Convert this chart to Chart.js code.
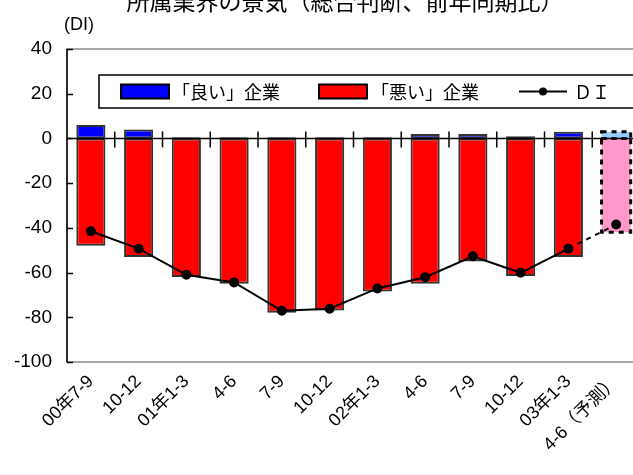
<!DOCTYPE html>
<html lang="ja">
<head>
<meta charset="utf-8">
<title>所属業界の景気（総合判断、前年同期比）</title>
<script src="https://cdn.jsdelivr.net/npm/chart.js@4/dist/chart.umd.min.js"></script>
<style>
  html, body { margin: 0; padding: 0; overflow: hidden; background: #fff; }
  #wrap { position: absolute; left: 0; top: 0; width: 660px; height: 475px; }
</style>
</head>
<body>
<div id="wrap"><canvas id="chart" width="660" height="475"></canvas></div>
<script>
// 四半期ラベル
const categories = ['00年7-9', '10-12', '01年1-3', '4-6', '7-9', '10-12',
                    '02年1-3', '4-6', '7-9', '10-12', '03年1-3', '4-6（予測）'];
// 「良い」企業の割合（％）
const goodValues = [6, 4, 0.5, 0.5, 0.5, 0.5, 0.5, 2, 2, 1, 3, 3];
// 「悪い」企業の割合（マイナス表示）
const badValues = [-48, -53, -62, -65, -78, -77, -68.5, -65, -55, -61.5, -53, -42];
// ＤＩ（「良い」－「悪い」）
const diValues = [-41.5, -49.3, -61, -64.4, -77.1, -76.2, -67.1, -62.1, -52.7, -60.1, -49.3, -38.5];
// 縦軸目盛
const yTicks = [40, 20, 0, -20, -40, -60, -80, -100];

const titleText = '所属業界の景気（総合判断、前年同期比）';
const unitText = '(DI)';
const legendLabels = ['「良い」企業', '「悪い」企業', 'ＤＩ'];

const FORECAST = categories.length - 1;
const FONT = '"Liberation Sans", "Noto Sans CJK JP", sans-serif';
const JFONT = '"Noto Sans CJK JP", "Liberation Sans", sans-serif';

// 予測値の棒は破線枠で描く
const dashedBars = {
  id: 'dashedBars',
  afterDatasetsDraw(chart) {
    const ctx = chart.ctx;
    [0, 1].forEach(di => {
      const el = chart.getDatasetMeta(di).data[FORECAST];
      if (!el) return;
      const p = el.getProps(['x', 'y', 'base', 'width'], true);
      const l = p.x - p.width / 2, r = p.x + p.width / 2;
      const t = Math.min(p.y, p.base), b = Math.max(p.y, p.base);
      ctx.save();
      ctx.strokeStyle = '#000';
      ctx.lineWidth = 3;
      ctx.setLineDash([5, 5]);
      ctx.strokeRect(l, t, r - l, b - t);
      ctx.restore();
    });
  }
};

// 枠線・ゼロ線・目盛線・見出し・凡例
const decorations = {
  id: 'decorations',
  beforeDatasetsDraw(chart) {
    const { ctx, chartArea: a, scales: { y } } = chart;
    ctx.save();
    // 外枠（灰色）
    ctx.strokeStyle = '#8a8a8a';
    ctx.lineWidth = 1.5;
    ctx.strokeRect(a.left, a.top, a.right - a.left, a.bottom - a.top);
    // 縦軸
    ctx.strokeStyle = '#000';
    ctx.lineWidth = 1.5;
    ctx.beginPath();
    ctx.moveTo(a.left, a.top);
    ctx.lineTo(a.left, a.bottom);
    ctx.stroke();
    // 縦軸の内向き目盛
    yTicks.forEach(v => {
      const py = Math.round(y.getPixelForValue(v)) + 0.5;
      ctx.beginPath();
      ctx.moveTo(a.left, py);
      ctx.lineTo(a.left + 6, py);
      ctx.stroke();
    });
    ctx.restore();
  },
  afterDatasetsDraw(chart) {
    const { ctx, chartArea: a, scales: { x, y } } = chart;
    ctx.save();
    // ゼロ線と区切り目盛
    const y0 = y.getPixelForValue(0);
    ctx.strokeStyle = '#000';
    ctx.lineWidth = 1.5;
    ctx.beginPath();
    ctx.moveTo(a.left, y0);
    ctx.lineTo(a.right, y0);
    ctx.stroke();
    for (let i = 0; i < categories.length - 1; i++) {
      const px = (x.getPixelForValue(i) + x.getPixelForValue(i + 1)) / 2;
      ctx.beginPath();
      ctx.moveTo(px, y0 - 7);
      ctx.lineTo(px, y0 + 9);
      ctx.stroke();
    }
    ctx.restore();
  },
  afterDraw(chart) {
    const { ctx } = chart;
    const ds = chart.data.datasets;
    ctx.save();
    ctx.fillStyle = '#000';
    // 表題（上端で切れる）
    ctx.font = '23px ' + JFONT;
    ctx.textAlign = 'center';
    ctx.textBaseline = 'alphabetic';
    ctx.fillText(titleText, 345, 10);
    // 単位
    ctx.font = '18px ' + FONT;
    ctx.textAlign = 'center';
    ctx.textBaseline = 'middle';
    ctx.fillText(unitText, 79, 25);

    // 凡例
    const top = 75, bottom = 108, mid = (top + bottom) / 2;
    ctx.fillStyle = '#fff';
    ctx.fillRect(99, top, chart.width, bottom - top);
    ctx.strokeStyle = '#000';
    ctx.lineWidth = 1.5;
    ctx.strokeRect(99, top, chart.width, bottom - top);

    ctx.font = '18px ' + JFONT;
    ctx.textAlign = 'left';
    ctx.textBaseline = 'middle';
    const items = [
      { sx: 121, tx: 172, d: ds[0] },
      { sx: 319, tx: 371, d: ds[1] }
    ];
    items.forEach(it => {
      const c = Array.isArray(it.d.backgroundColor) ? it.d.backgroundColor[0] : it.d.backgroundColor;
      ctx.fillStyle = c;
      ctx.fillRect(it.sx, mid - 7, 48, 14);
      ctx.strokeStyle = '#000';
      ctx.lineWidth = 2;
      ctx.strokeRect(it.sx, mid - 7, 48, 14);
      ctx.fillStyle = '#000';
      ctx.fillText(it.d.label, it.tx, mid + 1);
    });
    // 折れ線の凡例
    ctx.strokeStyle = ds[2].borderColor;
    ctx.lineWidth = 2;
    ctx.beginPath();
    ctx.moveTo(519, mid);
    ctx.lineTo(567, mid);
    ctx.stroke();
    ctx.fillStyle = '#000';
    ctx.beginPath();
    ctx.arc(543, mid, 4, 0, Math.PI * 2);
    ctx.fill();
    ctx.fillText(ds[2].label, 574, mid + 1);
    ctx.restore();
  }
};

const isForecast = c => c.dataIndex === FORECAST;

new Chart(document.getElementById('chart'), {
  data: {
    labels: categories,
    datasets: [
      {
        type: 'bar',
        label: legendLabels[0],
        data: goodValues,
        grouped: false,
        order: 2,
        backgroundColor: categories.map((_, i) => i === FORECAST ? '#99ccff' : '#0000ff'),
        borderColor: '#333',
        borderWidth: c => isForecast(c) ? 0 : 2,
        borderSkipped: false,
        barPercentage: 0.61,
        categoryPercentage: 1
      },
      {
        type: 'bar',
        label: legendLabels[1],
        data: badValues,
        grouped: false,
        order: 1,
        backgroundColor: categories.map((_, i) => i === FORECAST ? '#ff99cc' : '#ff0000'),
        borderColor: '#333',
        borderWidth: c => isForecast(c) ? 0 : 2,
        borderSkipped: false,
        barPercentage: 0.61,
        categoryPercentage: 1
      },
      {
        type: 'line',
        label: legendLabels[2],
        data: diValues,
        order: 0,
        borderColor: '#000',
        borderWidth: 2,
        pointRadius: 4,
        pointBackgroundColor: '#000',
        pointBorderColor: '#000',
        tension: 0,
        segment: {
          borderDash: c => c.p1DataIndex === FORECAST ? [5, 5] : undefined
        }
      }
    ]
  },
  options: {
    responsive: false,
    animation: false,
    events: [],
    layout: { padding: { top: 49, right: 20, left: 0, bottom: 0 } },
    plugins: {
      legend: { display: false },
      title: { display: false },
      tooltip: { enabled: false }
    },
    scales: {
      x: {
        type: 'category',
        offset: true,
        grid: { display: false, drawTicks: false },
        border: { display: false },
        ticks: {
          color: '#000',
          font: { size: 18, family: FONT },
          minRotation: 45,
          maxRotation: 45,
          padding: 9,
          autoSkip: false
        },
        afterFit(s) { s.height = 113; }
      },
      y: {
        min: -100,
        max: 40,
        afterBuildTicks(s) { s.ticks = yTicks.map(v => ({ value: v })); },
        grid: { display: false, drawTicks: false },
        border: { display: false },
        ticks: {
          color: '#000',
          font: { size: 19, family: FONT },
          padding: 15
        },
        afterFit(s) { s.width = 67; }
      }
    }
  },
  plugins: [decorations, dashedBars]
});
</script>
</body>
</html>
